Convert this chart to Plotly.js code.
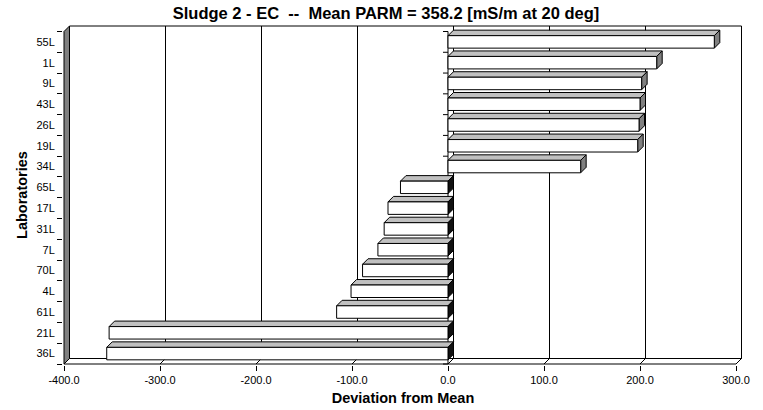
<!DOCTYPE html>
<html>
<head>
<meta charset="utf-8">
<script src="https://cdn.plot.ly/plotly-3.0.1.min.js"></script>
<style>html,body{margin:0;padding:0;background:#fff;}#chart{width:763px;height:410px;}</style>
</head>
<body>
<div id="chart"></div>
<script>
// ---- data (top to bottom as shown) ----
const labs = ['55L','1L','9L','43L','26L','19L','34L','65L','17L','31L','7L','70L','4L','61L','21L','36L'];
const devs = [277.4, 217.4, 201.7, 200.0, 199.0, 197.6, 138.2, -49.5, -62.5, -66.5, -73.0, -89.0, -101.0, -116.0, -353.0, -355.5];
const xTicks = [-400, -300, -200, -100, 0, 100, 200, 300];
const xTickText = ['-400.0', '-300.0', '-200.0', '-100.0', '0.0', '100.0', '200.0', '300.0'];
const titleText = 'Sludge 2 - EC \u00a0-- \u00a0Mean PARM = 358.2 [mS/m at 20 deg]';

// ---- geometry of the pseudo-3D look ----
const FONT = 'Liberation Sans, Arial, sans-serif';
const n = labs.length;
const yIdx = labs.map((_, k) => n - 1 - k);
const xMin = xTicks[0], xMax = xTicks[xTicks.length - 1];
const pxPerX = 0.96, pxPerY = 20.78;
const DX = 5.5 / pxPerX, DY = 5.5 / pxPerY;
const HALF = 0.3;
const yLo = -0.5, yHi = n - 0.5;
const bounds = [];
for (let b = yLo; b <= yHi + 1e-9; b += 1) bounds.push(b);

function poly(pts) {
  return 'M' + pts.map(p => p[0] + ',' + p[1]).join(' L') + ' Z';
}
const shapes = [];
const base = {xref: 'x', yref: 'y', layer: 'below'};
// back wall
shapes.push(Object.assign({}, base, {type: 'rect', x0: xMin + DX, x1: xMax + DX, y0: yLo + DY, y1: yHi + DY,
  fillcolor: '#ffffff', line: {color: '#000', width: 1}}));
// back-wall gridlines
xTicks.forEach(v => {
  if (v > xMin && v < xMax) shapes.push(Object.assign({}, base, {type: 'line', x0: v + DX, x1: v + DX, y0: yLo + DY, y1: yHi + DY,
    line: {color: '#000', width: 1}}));
});
// left wall
shapes.push(Object.assign({}, base, {type: 'path',
  path: poly([[xMin, yLo], [xMin, yHi], [xMin + DX, yHi + DY], [xMin + DX, yLo + DY]]),
  fillcolor: '#808080', line: {color: '#000', width: 1}}));
// floor
shapes.push(Object.assign({}, base, {type: 'path',
  path: poly([[xMin, yLo], [xMax, yLo], [xMax + DX, yLo + DY], [xMin + DX, yLo + DY]]),
  fillcolor: '#ffffff', line: {color: '#000', width: 1}}));
// floor gridlines
xTicks.forEach(v => {
  shapes.push(Object.assign({}, base, {type: 'line', x0: v, x1: v + DX, y0: yLo, y1: yLo + DY,
    line: {color: '#000', width: 1}}));
});
// category axis at zero with ticks
shapes.push(Object.assign({}, base, {type: 'line', x0: 0, x1: 0, y0: yLo, y1: yHi, line: {color: '#000', width: 1}}));
bounds.forEach(b => {
  shapes.push(Object.assign({}, base, {type: 'line', x0: -5 / pxPerX, x1: 0, y0: b, y1: b, line: {color: '#000', width: 1}}));
});
// bar top faces and end faces
devs.forEach((v, k) => {
  const y = yIdx[k];
  shapes.push(Object.assign({}, base, {type: 'path',
    path: poly([[0, y + HALF], [v, y + HALF], [v + DX, y + HALF + DY], [DX, y + HALF + DY]]),
    fillcolor: '#c0c0c0', line: {color: '#000', width: 1}}));
  const ex = v >= 0 ? v : 0;
  shapes.push(Object.assign({}, base, {type: 'path',
    path: poly([[ex, y - HALF], [ex, y + HALF], [ex + DX, y + HALF + DY], [ex + DX, y - HALF + DY]]),
    fillcolor: v >= 0 ? '#808080' : '#111111', line: {color: '#000', width: 1}}));
});

const traces = [{
  type: 'bar', orientation: 'h', x: devs, y: yIdx, width: 2 * HALF,
  marker: {color: '#ffffff', line: {color: '#000', width: 1}},
  hoverinfo: 'skip', showlegend: false
}, {
  type: 'scatter', x: [null], y: [null], yaxis: 'y2', showlegend: false, hoverinfo: 'skip'
}];

const yRange = [yLo - 1 / pxPerY, yHi + DY + 1 / pxPerY];
const layout = {
  width: 763, height: 410,
  margin: {l: 63, r: 20, t: 25, b: 45},
  paper_bgcolor: '#fff', plot_bgcolor: '#fff',
  showlegend: false,
  font: {family: FONT, color: '#000'},
  title: {text: titleText, font: {family: FONT, size: 16.5, weight: 'bold', color: '#000'},
    x: 386 / 763, xref: 'container', xanchor: 'center', y: 1 - 13 / 410, yref: 'container', yanchor: 'middle'},
  xaxis: {
    range: [xMin - 1 / pxPerX, xMax + 7 / pxPerX],
    tickvals: xTicks, ticktext: xTickText, ticks: 'outside', ticklen: 5, tickcolor: '#000',
    showgrid: false, zeroline: false, showline: false,
    tickfont: {family: FONT, size: 11, color: '#000'},
    title: {text: 'Deviation from Mean', font: {family: FONT, size: 14.5, weight: 'bold', color: '#000'}, standoff: 7}
  },
  yaxis: {
    range: yRange,
    tickvals: yIdx, ticktext: labs, ticks: 'outside', ticklen: 5, tickcolor: 'rgba(0,0,0,0)',
    showgrid: false, zeroline: false, showline: false,
    tickfont: {family: FONT, size: 11, color: '#000'},
    title: {text: 'Laboratories', font: {family: FONT, size: 14.5, weight: 'bold', color: '#000'}, standoff: 5}
  },
  yaxis2: {
    overlaying: 'y', anchor: 'x', side: 'left', range: yRange,
    tickvals: bounds, ticks: 'outside', ticklen: 5, tickcolor: '#000',
    showticklabels: false, showgrid: false, zeroline: false, showline: false
  },
  shapes: shapes
};
Plotly.newPlot('chart', traces, layout, {staticPlot: true, displayModeBar: false});
</script>
</body>
</html>
